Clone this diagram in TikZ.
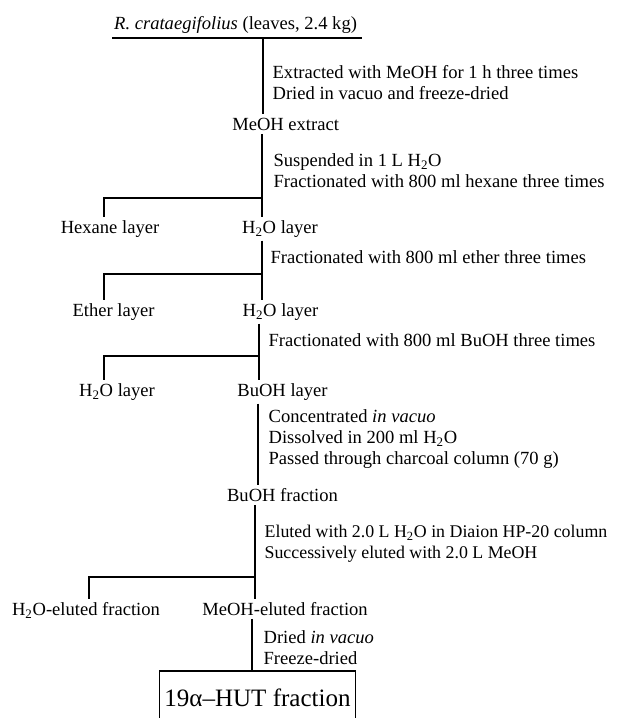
\documentclass[tikz,border=0pt]{standalone}
\usepackage{fontspec}
\setmainfont{Liberation Serif}
\usepackage{tikz}
\usetikzlibrary{positioning, calc}

\begin{document}
\begin{tikzpicture}[
        line width=0.9pt,
        layer/.style={inner sep=2pt, anchor=mid, font=\fontsize{13.2}{15}\selectfont},
        cond/.style={inner sep=0pt, anchor=west, align=left, font=\fontsize{13.2}{15}\selectfont}
    ]
        \useasboundingbox (0,0) rectangle (15.45,-17.95);

        % Starting material
        \node[layer] (plant) at (5.89,-0.65) {\textit{R. crataegifolius} (leaves, 2.4 kg)};
        \coordinate (lineL) at (2.8,-0.95);
        \coordinate (lineR) at (9.05,-0.95);
        \coordinate (top) at (6.575,-0.95);
        \draw (lineL) -- (lineR);

        % Extraction
        \node[layer] (meoh) at (7.14,-3.175) {MeOH extract};
        \node[cond] (c1) at (6.8,-2.075) {Extracted with MeOH for 1 h three times\\Dried in vacuo and freeze-dried};
        \draw (top) -- (top |- meoh.north);

        % Hexane partition
        \coordinate (b1) at (6.55,-4.95);
        \coordinate (l1) at (2.6,-4.95);
        \node[layer] (hexane) at (2.75,-5.75) {Hexane layer};
        \node[layer] (water1) at (7.0,-5.75) {H\textsubscript{2}O layer};
        \node[cond] (c2) at (6.825,-4.2625) {Suspended in 1 L H\textsubscript{2}O\\Fractionated with 800 ml hexane three times};
        \draw (b1 |- meoh.south) -- (b1 |- water1.north);
        \draw (b1) -- (l1) -- (l1 |- hexane.north);

        % Ether partition
        \coordinate (b2) at (6.55,-6.85);
        \coordinate (l2) at (2.6,-6.85);
        \node[layer] (ether) at (2.8375,-7.825) {Ether layer};
        \node[layer] (water2) at (7.0125,-7.825) {H\textsubscript{2}O layer};
        \node[cond] (c3) at (6.75,-6.425) {Fractionated with 800 ml ether three times};
        \draw (b2 |- water1.south) -- (b2 |- water2.north);
        \draw (b2) -- (l2) -- (l2 |- ether.north);

        % BuOH partition
        \coordinate (b3) at (6.475,-8.9);
        \coordinate (l3) at (2.6,-8.9);
        \node[layer] (water3) at (2.925,-9.825) {H\textsubscript{2}O layer};
        \node[layer] (buohL) at (7.0625,-9.825) {BuOH layer};
        \node[cond] (c4) at (6.7,-8.5) {Fractionated with 800 ml BuOH three times};
        \draw (b3 |- water2.south) -- (b3 |- buohL.north);
        \draw (b3) -- (l3) -- (l3 |- water3.north);

        % Charcoal column
        \coordinate (t5) at (6.45,-11);
        \node[layer] (buohF) at (7.0625,-12.45) {BuOH fraction};
        \node[cond] (c5) at (6.7,-10.975) {Concentrated \textit{in vacuo}\\Dissolved in 200 ml H\textsubscript{2}O\\Passed through charcoal column (70 g)};
        \draw (t5 |- buohL.south) -- (t5 |- buohF.north);

        % Diaion column
        \coordinate (b4) at (6.375,-14.425);
        \coordinate (l4) at (2.225,-14.425);
        \node[layer] (waterEl) at (2.15,-15.3) {H\textsubscript{2}O-eluted fraction};
        \node[layer] (meohEl) at (7.125,-15.3) {MeOH-eluted fraction};
        \node[cond, font=\fontsize{12.7}{15}\selectfont] (c6) at (6.6,-13.6) {Eluted with 2.0 L H\textsubscript{2}O in Diaion HP-20 column\\Successively eluted with 2.0 L MeOH};
        \draw (b4 |- buohF.south) -- (b4 |- meohEl.north);
        \draw (b4) -- (l4) -- (l4 |- waterEl.north);

        % Final fraction
        \coordinate (t7) at (6.3,-16.5);
        \node[draw, minimum width=4.825cm, minimum height=1.35cm, font=\fontsize{17.8}{20}\selectfont] (hut) at (6.4375,-17.45) {19α–HUT fraction};
        \node[cond] (c7) at (6.575,-16.1875) {Dried \textit{in vacuo}\\Freeze-dried};
        \draw (t7 |- meohEl.south) -- (t7 |- hut.north);
    \end{tikzpicture}
\end{document}
